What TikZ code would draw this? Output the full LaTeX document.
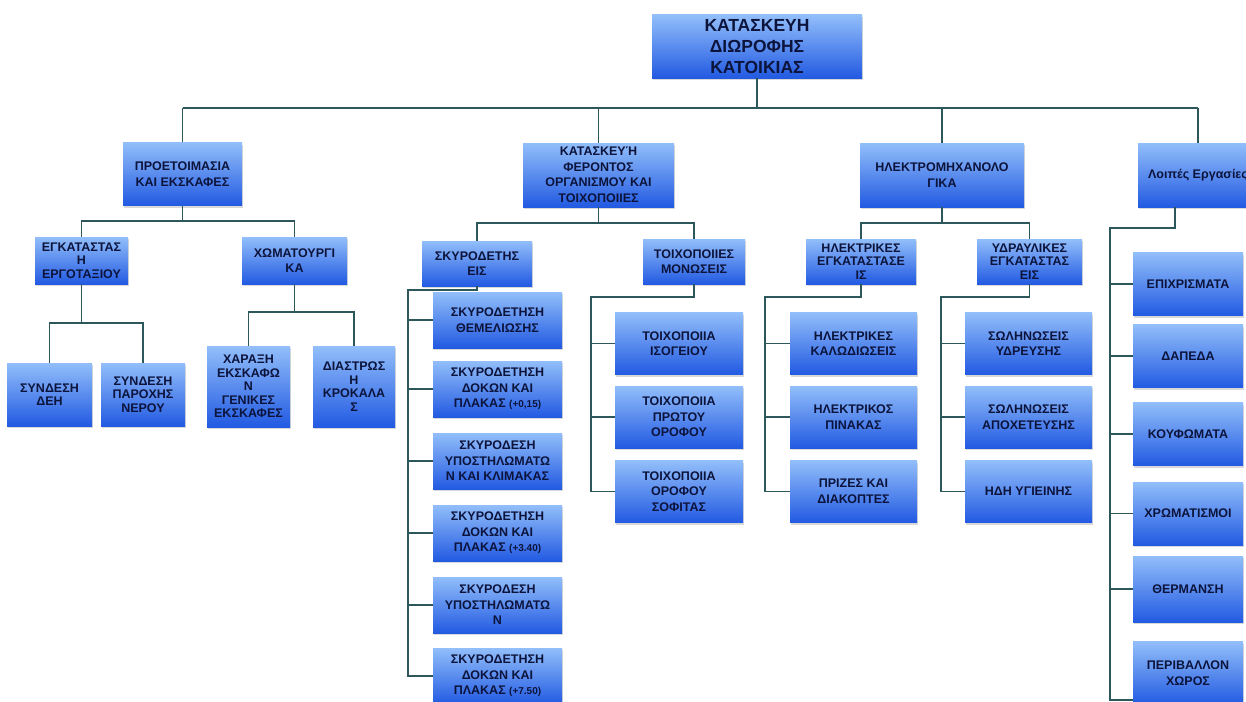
\documentclass[tikz,border=0pt]{standalone}
\usepackage{fontspec}
\setmainfont{Liberation Sans}
\usetikzlibrary{shadows}
\definecolor{boxtop}{RGB}{146,190,250}
\definecolor{boxbot}{RGB}{34,90,226}
\definecolor{boxtext}{RGB}{12,20,60}
\definecolor{linkcol}{RGB}{44,88,92}
\newcommand{\elev}[1]{{\fontsize{10}{15}\selectfont #1}}
\begin{document}
\begin{tikzpicture}[x=1pt, y=-1pt,
    box/.style={rectangle, draw=none, top color=boxtop, bottom color=boxbot,
      text=boxtext, align=center, inner sep=1pt,
      font=\fontsize{12.5}{15.5}\selectfont\bfseries,
      drop shadow={opacity=0.3, shadow xshift=1pt, shadow yshift=-2pt}},
    tight/.style={font=\fontsize{12.5}{13.5}\selectfont\bfseries},
    link/.style={draw=linkcol, line width=1.3pt}]
    \clip (0,0) rectangle (1246,701);
    \fill[white] (0,0) rectangle (1246,701);
    % Nodes
    \node[box, minimum width=210pt, minimum height=63pt, font=\fontsize{17.5}{21}\selectfont\bfseries] (root) at (757,46.5) {ΚΑΤΑΣΚΕΥΗ\\ΔΙΩΡΟΦΗΣ\\ΚΑΤΟΙΚΙΑΣ};
    \node[box, minimum width=119pt, minimum height=63pt] (prep) at (182.5,174) {ΠΡΟΕΤΟΙΜΑΣΙΑ\\ΚΑΙ ΕΚΣΚΑΦΕΣ};
    \node[box, minimum width=151pt, minimum height=64pt] (bear) at (598.5,175) {ΚΑΤΑΣΚΕΥΉ\\ΦΕΡΟΝΤΟΣ\\ΟΡΓΑΝΙΣΜΟΥ ΚΑΙ\\ΤΟΙΧΟΠΟΙΙΕΣ};
    \node[box, minimum width=164pt, minimum height=64pt] (elec) at (942,175) {ΗΛΕΚΤΡΟΜΗΧΑΝΟΛΟ\\ΓΙΚΑ};
    \node[box, minimum width=120pt, minimum height=64pt] (other) at (1198,175) {Λοιπές Εργασίες};
    \node[box, tight, minimum width=93pt, minimum height=47pt] (site) at (81.5,260.5) {ΕΓΚΑΤΑΣΤΑΣ\\Η\\ΕΡΓΟΤΑΞΙΟΥ};
    \node[box, minimum width=105pt, minimum height=47pt] (earth) at (294.5,260.5) {ΧΩΜΑΤΟΥΡΓΙ\\ΚΑ};
    \node[box, minimum width=110pt, minimum height=45pt] (conc) at (477,263.5) {ΣΚΥΡΟΔΕΤΗΣ\\ΕΙΣ};
    \node[box, minimum width=102pt, minimum height=45pt] (wall) at (694,261.5) {ΤΟΙΧΟΠΟΙΙΕΣ\\ΜΟΝΩΣΕΙΣ};
    \node[box, tight, minimum width=110pt, minimum height=45pt] (elinst) at (861,261.5) {ΗΛΕΚΤΡΙΚΕΣ\\ΕΓΚΑΤΑΣΤΑΣΕ\\ΙΣ};
    \node[box, tight, minimum width=105pt, minimum height=45pt] (hyd) at (1029.5,261.5) {ΥΔΡΑΥΛΙΚΕΣ\\ΕΓΚΑΤΑΣΤΑΣ\\ΕΙΣ};
    \node[box, tight, minimum width=85pt, minimum height=63pt] (dei) at (49.5,394.5) {ΣΥΝΔΕΣΗ\\ΔΕΗ};
    \node[box, tight, minimum width=84pt, minimum height=63pt] (water) at (143,394.5) {ΣΥΝΔΕΣΗ\\ΠΑΡΟΧΗΣ\\ΝΕΡΟΥ};
    \node[box, tight, minimum width=83pt, minimum height=81pt] (chara) at (248.5,386.5) {ΧΑΡΑΞΗ\\ΕΚΣΚΑΦΩ\\Ν\\ΓΕΝΙΚΕΣ\\ΕΚΣΚΑΦΕΣ};
    \node[box, tight, minimum width=82pt, minimum height=81pt] (diastr) at (354,386.5) {ΔΙΑΣΤΡΩΣ\\Η\\ΚΡΟΚΑΛΑ\\Σ};
    \node[box, minimum width=129pt, minimum height=56pt] (c1) at (497.5,320) {ΣΚΥΡΟΔΕΤΗΣΗ\\ΘΕΜΕΛΙΩΣΗΣ};
    \node[box, minimum width=129pt, minimum height=56pt] (c2) at (497.5,389) {ΣΚΥΡΟΔΕΤΗΣΗ\\ΔΟΚΩΝ ΚΑΙ\\ΠΛΑΚΑΣ \elev{(+0,15)}};
    \node[box, minimum width=129pt, minimum height=56pt] (c3) at (497.5,461) {ΣΚΥΡΟΔΕΣΗ\\ΥΠΟΣΤΗΛΩΜΑΤΩ\\Ν ΚΑΙ ΚΛΙΜΑΚΑΣ};
    \node[box, minimum width=129pt, minimum height=56pt] (c4) at (497.5,533) {ΣΚΥΡΟΔΕΤΗΣΗ\\ΔΟΚΩΝ ΚΑΙ\\ΠΛΑΚΑΣ \elev{(+3.40)}};
    \node[box, minimum width=129pt, minimum height=56pt] (c5) at (497.5,605) {ΣΚΥΡΟΔΕΣΗ\\ΥΠΟΣΤΗΛΩΜΑΤΩ\\Ν};
    \node[box, minimum width=129pt, minimum height=56pt] (c6) at (497.5,676) {ΣΚΥΡΟΔΕΤΗΣΗ\\ΔΟΚΩΝ ΚΑΙ\\ΠΛΑΚΑΣ \elev{(+7.50)}};
    \node[box, minimum width=128pt, minimum height=62pt] (w1) at (679,343.5) {ΤΟΙΧΟΠΟΙΙΑ\\ΙΣΟΓΕΙΟΥ};
    \node[box, minimum width=128pt, minimum height=62pt] (w2) at (679,417) {ΤΟΙΧΟΠΟΙΙΑ\\ΠΡΩΤΟΥ\\ΟΡΟΦΟΥ};
    \node[box, minimum width=128pt, minimum height=62pt] (w3) at (679,491.5) {ΤΟΙΧΟΠΟΙΙΑ\\ΟΡΟΦΟΥ\\ΣΟΦΙΤΑΣ};
    \node[box, minimum width=127pt, minimum height=62pt] (e1) at (853.5,343.5) {ΗΛΕΚΤΡΙΚΕΣ\\ΚΑΛΩΔΙΩΣΕΙΣ};
    \node[box, minimum width=127pt, minimum height=62pt] (e2) at (853.5,417) {ΗΛΕΚΤΡΙΚΟΣ\\ΠΙΝΑΚΑΣ};
    \node[box, minimum width=127pt, minimum height=62pt] (e3) at (853.5,491.5) {ΠΡΙΖΕΣ ΚΑΙ\\ΔΙΑΚΟΠΤΕΣ};
    \node[box, minimum width=127pt, minimum height=62pt] (h1) at (1028.5,343.5) {ΣΩΛΗΝΩΣΕΙΣ\\ΥΔΡΕΥΣΗΣ};
    \node[box, minimum width=127pt, minimum height=62pt] (h2) at (1028.5,417) {ΣΩΛΗΝΩΣΕΙΣ\\ΑΠΟΧΕΤΕΥΣΗΣ};
    \node[box, minimum width=127pt, minimum height=62pt] (h3) at (1028.5,491.5) {ΗΔΗ ΥΓΙΕΙΝΗΣ};
    \node[box, minimum width=110pt, minimum height=63pt] (o1) at (1188,284) {ΕΠΙΧΡΙΣΜΑΤΑ};
    \node[box, minimum width=110pt, minimum height=63pt] (o2) at (1188,356) {ΔΑΠΕΔΑ};
    \node[box, minimum width=110pt, minimum height=63pt] (o3) at (1188,434) {ΚΟΥΦΩΜΑΤΑ};
    \node[box, minimum width=110pt, minimum height=63pt] (o4) at (1188,513.5) {ΧΡΩΜΑΤΙΣΜΟΙ};
    \node[box, minimum width=110pt, minimum height=66pt] (o5) at (1188,589) {ΘΕΡΜΑΝΣΗ};
    \node[box, minimum width=110pt, minimum height=63pt] (o6) at (1188,673) {ΠΕΡΙΒΑΛΛΟΝ\\ΧΩΡΟΣ};
    % Connection
    \coordinate (bus) at (0,108);
    \draw[link] (root.south) -- (root.south |- bus);
    \draw[link] (prep.north |- bus) -- (other.north |- bus);
    \foreach \n in {prep,bear,elec,other}
      \draw[link] (\n.north) -- (\n.north |- bus);
    % first branch
    \coordinate (prepbus) at (0,221);
    \draw[link] (prep.south) -- (prep.south |- prepbus);
    \draw[link] (site.north) |- (earth.north |- prepbus) -- (earth.north);
    \coordinate (sitebus) at (0,323);
    \draw[link] (site.south) -- (site.south |- sitebus);
    \draw[link] (dei.north) |- (water.north |- sitebus) -- (water.north);
    \coordinate (earthbus) at (0,312);
    \draw[link] (earth.south) -- (earth.south |- earthbus);
    \draw[link] (chara.north) |- (diastr.north |- earthbus) -- (diastr.north);
    % second branch
    \coordinate (bearbus) at (0,223);
    \draw[link] (bear.south) -- (bear.south |- bearbus);
    \draw[link] (conc.north) |- (wall.north |- bearbus) -- (wall.north);
    \coordinate (concbus) at (408,290);
    \draw[link] (conc.south) |- (concbus) -- (concbus |- c6.west) -- (c6.west);
    \foreach \n in {c1,c2,c3,c4,c5}
      \draw[link] (concbus |- \n.west) -- (\n.west);
    \coordinate (wallbus) at (591,297);
    \draw[link] (wall.south) |- (wallbus) -- (wallbus |- w3.west) -- (w3.west);
    \foreach \n in {w1,w2}
      \draw[link] (wallbus |- \n.west) -- (\n.west);
    % third branch
    \coordinate (elecbus) at (0,223);
    \draw[link] (elec.south) -- (elec.south |- elecbus);
    \draw[link] (elinst.north) |- (hyd.north |- elecbus) -- (hyd.north);
    \coordinate (elinstbus) at (765,297);
    \draw[link] (elinst.south) |- (elinstbus) -- (elinstbus |- e3.west) -- (e3.west);
    \foreach \n in {e1,e2}
      \draw[link] (elinstbus |- \n.west) -- (\n.west);
    \coordinate (hydbus) at (941,297);
    \draw[link] (hyd.south) |- (hydbus) -- (hydbus |- h3.west) -- (h3.west);
    \foreach \n in {h1,h2}
      \draw[link] (hydbus |- \n.west) -- (\n.west);
    % fourth branch
    \coordinate (otherbus) at (1110,228);
    \draw[link] ([xshift=-23pt]other.south) |- (otherbus) -- (otherbus |- 0,700) -- ([yshift=-27pt]o6.west);
    \foreach \n in {o1,o2,o3,o4,o5}
      \draw[link] (otherbus |- \n.west) -- (\n.west);
\end{tikzpicture}
\end{document}
